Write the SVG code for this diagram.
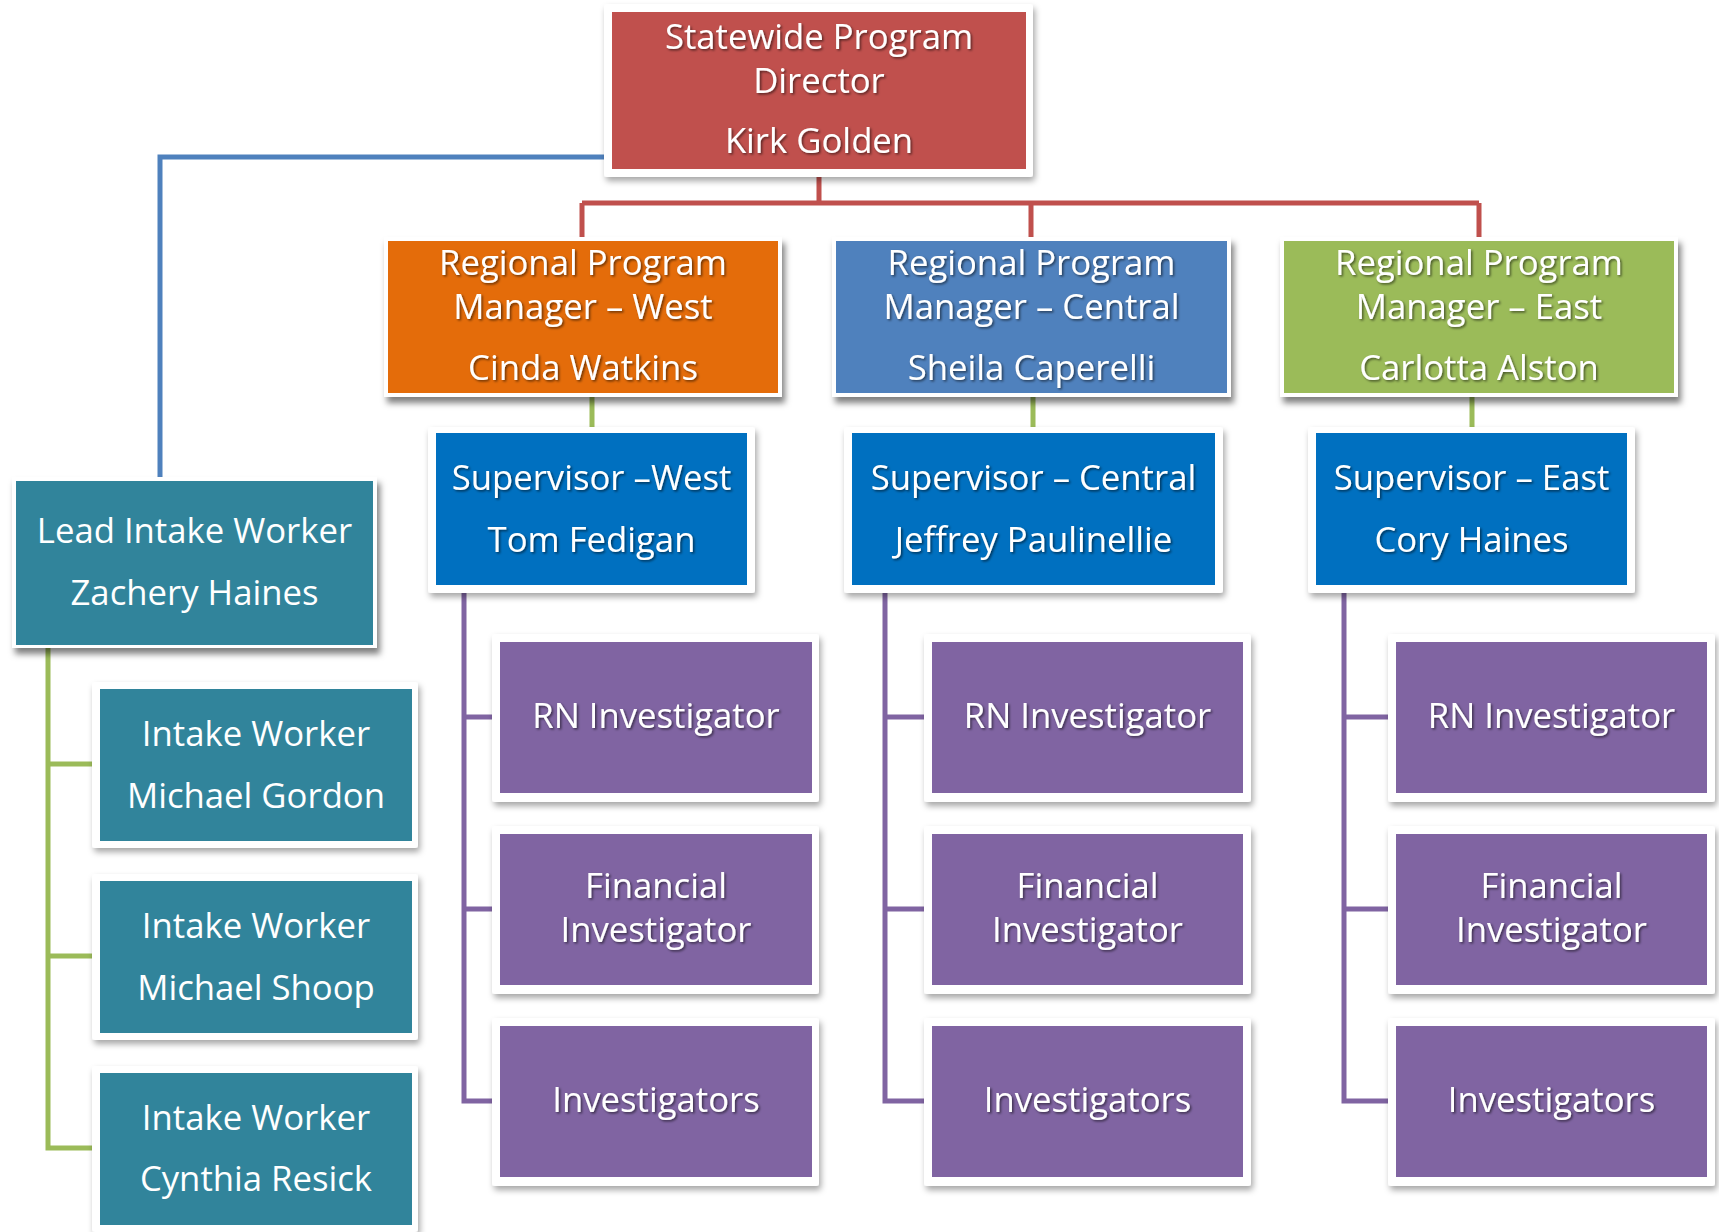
<svg xmlns="http://www.w3.org/2000/svg" width="1719" height="1232" viewBox="0 0 1719 1232">
<defs>
<filter id="shS" x="-10%" y="-10%" width="125%" height="130%"><feDropShadow dx="2" dy="4" stdDeviation="3" flood-color="#000" flood-opacity="0.35"/></filter>
<filter id="shL" x="-10%" y="-10%" width="125%" height="130%"><feDropShadow dx="3" dy="6" stdDeviation="3" flood-color="#000" flood-opacity="0.5"/></filter>
<filter id="tsh" x="-10%" y="-20%" width="120%" height="150%"><feDropShadow dx="1.5" dy="1.5" stdDeviation="1" flood-color="#000" flood-opacity="0.55"/></filter>
</defs>
<style>
.t{font-family:"Open Sans","Noto Sans",sans-serif;font-size:34.7px;fill:#fff;text-anchor:middle}
.s{filter:url(#tsh)}
.fr{fill:#fff}
.c{fill:none;stroke-width:5;stroke-linejoin:miter}
</style>
<rect width="1719" height="1232" fill="#fff"/>
<g id="connectors">
<path class="c" stroke="#4F81BD" d="M606 157H160V478"/>
<path class="c" stroke="#C0504D" d="M819 175V203M582 203H1479M582 203V238M1031 203V238M1479 203V238"/>
<path class="c" stroke="#9BBB59" d="M592 396V428M1033 396V428M1472 396V428"/>
<path class="c" stroke="#9BBB59" d="M48 646V1148H93M48 764H93M48 956H93"/>
<path class="c" stroke="#8064A2" d="M464 592V1101H493M464 717H493M464 909H493"/>
<path class="c" stroke="#8064A2" d="M885 592V1101H925M885 717H925M885 909H925"/>
<path class="c" stroke="#8064A2" d="M1344 592V1101H1389M1344 717H1389M1344 909H1389"/>
</g>
<g id="director"><rect class="fr" x="604" y="4" width="429" height="173" rx="3" filter="url(#shS)"/><rect x="612" y="12" width="414" height="157" fill="#C0504D"/><g class="s"><text class="t" x="819" y="49">Statewide Program</text><text class="t" x="819" y="93">Director</text><text class="t" x="819" y="153">Kirk Golden</text></g></g>
<g id="rpm-west"><rect class="fr" x="384" y="237" width="398" height="160" filter="url(#shL)"/><rect x="388" y="241" width="390" height="152" fill="#E46C0A"/><g class="s"><text class="t" x="583" y="275">Regional Program</text><text class="t" x="583" y="319">Manager – West</text><text class="t" x="583" y="380">Cinda Watkins</text></g></g>
<g id="rpm-central"><rect class="fr" x="832" y="237" width="399" height="160" filter="url(#shL)"/><rect x="836" y="241" width="391" height="152" fill="#4F81BD"/><g class="s"><text class="t" x="1031.5" y="275">Regional Program</text><text class="t" x="1031.5" y="319">Manager – Central</text><text class="t" x="1031.5" y="380">Sheila Caperelli</text></g></g>
<g id="rpm-east"><rect class="fr" x="1280" y="237" width="398" height="160" filter="url(#shL)"/><rect x="1284" y="241" width="390" height="152" fill="#9BBB59"/><g class="s"><text class="t" x="1479" y="275">Regional Program</text><text class="t" x="1479" y="319">Manager – East</text><text class="t" x="1479" y="380">Carlotta Alston</text></g></g>
<g id="sup-west"><rect class="fr" x="428" y="427" width="327" height="166" rx="3" filter="url(#shS)"/><rect x="436" y="433" width="311" height="152" fill="#0070C0"/><g class="s"><text class="t" x="591.5" y="490">Supervisor –West</text><text class="t" x="591.5" y="552">Tom Fedigan</text></g></g>
<g id="sup-central"><rect class="fr" x="844" y="427" width="379" height="166" rx="3" filter="url(#shS)"/><rect x="852" y="433" width="363" height="152" fill="#0070C0"/><g class="s"><text class="t" x="1033.5" y="490">Supervisor – Central</text><text class="t" x="1033.5" y="552">Jeffrey Paulinellie</text></g></g>
<g id="sup-east"><rect class="fr" x="1308" y="427" width="327" height="166" rx="3" filter="url(#shS)"/><rect x="1316" y="433" width="311" height="152" fill="#0070C0"/><g class="s"><text class="t" x="1471.5" y="490">Supervisor – East</text><text class="t" x="1471.5" y="552">Cory Haines</text></g></g>
<g id="lead-intake"><rect class="fr" x="12" y="477" width="365" height="171" filter="url(#shL)"/><rect x="16" y="481" width="357" height="164" fill="#31849B"/><text class="t" x="194.5" y="543">Lead Intake Worker</text><text class="t" x="194.5" y="605">Zachery Haines</text></g>
<g id="intake-1"><rect class="fr" x="92" y="682" width="326" height="166" rx="3" filter="url(#shS)"/><rect x="100" y="689" width="312" height="152" fill="#31849B"/><text class="t" x="256" y="746">Intake Worker</text><text class="t" x="256" y="808">Michael Gordon</text></g>
<g id="intake-2"><rect class="fr" x="92" y="874" width="326" height="166" rx="3" filter="url(#shS)"/><rect x="100" y="881" width="312" height="152" fill="#31849B"/><text class="t" x="256" y="938">Intake Worker</text><text class="t" x="256" y="1000">Michael Shoop</text></g>
<g id="intake-3"><rect class="fr" x="92" y="1066" width="326" height="166" rx="3" filter="url(#shS)"/><rect x="100" y="1073" width="312" height="152" fill="#31849B"/><text class="t" x="256" y="1130">Intake Worker</text><text class="t" x="256" y="1191">Cynthia Resick</text></g>
<g id="rn-west"><rect class="fr" x="492" y="634" width="327" height="168" rx="3" filter="url(#shS)"/><rect x="500" y="642" width="312" height="151" fill="#8064A2"/><text class="t s" x="656" y="728">RN Investigator</text></g>
<g id="fin-west"><rect class="fr" x="492" y="826" width="327" height="168" rx="3" filter="url(#shS)"/><rect x="500" y="834" width="312" height="151" fill="#8064A2"/><g class="s"><text class="t" x="656" y="898">Financial</text><text class="t" x="656" y="942">Investigator</text></g></g>
<g id="inv-west"><rect class="fr" x="492" y="1018" width="327" height="168" rx="3" filter="url(#shS)"/><rect x="500" y="1026" width="312" height="151" fill="#8064A2"/><text class="t s" x="656" y="1112">Investigators</text></g>
<g id="rn-central"><rect class="fr" x="924" y="634" width="327" height="168" rx="3" filter="url(#shS)"/><rect x="932" y="642" width="311" height="151" fill="#8064A2"/><text class="t s" x="1087.5" y="728">RN Investigator</text></g>
<g id="fin-central"><rect class="fr" x="924" y="826" width="327" height="168" rx="3" filter="url(#shS)"/><rect x="932" y="834" width="311" height="151" fill="#8064A2"/><g class="s"><text class="t" x="1087.5" y="898">Financial</text><text class="t" x="1087.5" y="942">Investigator</text></g></g>
<g id="inv-central"><rect class="fr" x="924" y="1018" width="327" height="168" rx="3" filter="url(#shS)"/><rect x="932" y="1026" width="311" height="151" fill="#8064A2"/><text class="t s" x="1087.5" y="1112">Investigators</text></g>
<g id="rn-east"><rect class="fr" x="1388" y="634" width="327" height="168" rx="3" filter="url(#shS)"/><rect x="1396" y="642" width="311" height="151" fill="#8064A2"/><text class="t s" x="1551.5" y="728">RN Investigator</text></g>
<g id="fin-east"><rect class="fr" x="1388" y="826" width="327" height="168" rx="3" filter="url(#shS)"/><rect x="1396" y="834" width="311" height="151" fill="#8064A2"/><g class="s"><text class="t" x="1551.5" y="898">Financial</text><text class="t" x="1551.5" y="942">Investigator</text></g></g>
<g id="inv-east"><rect class="fr" x="1388" y="1018" width="327" height="168" rx="3" filter="url(#shS)"/><rect x="1396" y="1026" width="311" height="151" fill="#8064A2"/><text class="t s" x="1551.5" y="1112">Investigators</text></g>
</svg>
